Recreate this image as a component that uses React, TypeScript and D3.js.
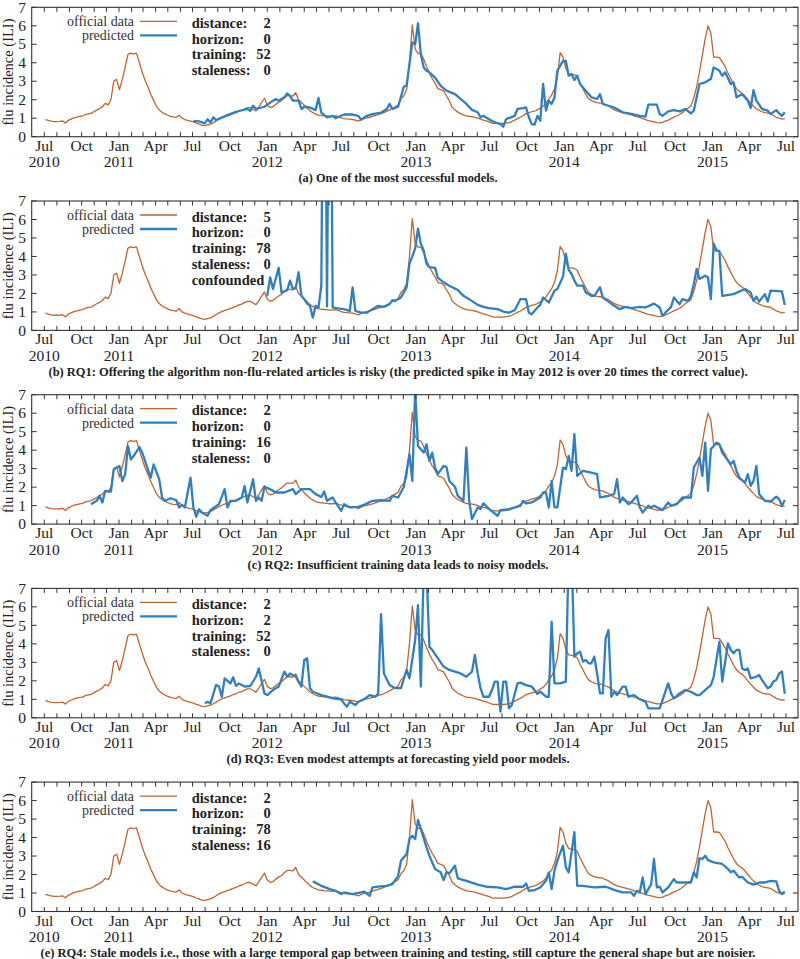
import React from 'react';
import * as d3 from 'd3';

// weekly official ILI values, starting week of 2010-07-04
const officialStart = new Date(2010, 6, 4);
const officialValues = [
  0.93, 0.88, 0.84, 0.82, 0.82, 0.83, 0.85, 0.74, 0.88, 0.95,
  1.02, 1.06, 1.1, 1.12, 1.2, 1.24, 1.26, 1.35, 1.44, 1.52,
  1.62, 1.8, 1.72, 2.0, 3.0, 3.1, 2.55, 3.1, 3.75, 4.45,
  4.52, 4.48, 4.52, 4.0, 3.5, 3.05, 2.7, 2.3, 1.98, 1.65,
  1.45, 1.32, 1.23, 1.16, 1.1, 1.07, 1.05, 1.17, 1.0, 0.93,
  0.88, 0.84, 0.8, 0.73, 0.68, 0.62, 0.6, 0.64, 0.68, 0.76,
  0.85, 0.95, 1.02, 1.08, 1.13, 1.18, 1.25, 1.3, 1.38, 1.42,
  1.5, 1.57, 1.57, 1.48, 1.39, 1.6, 1.85, 2.08, 1.7, 1.58,
  1.62, 1.75, 1.86, 1.95, 2.1, 2.22, 2.22, 2.2, 2.38, 2.0,
  1.85, 1.7, 1.55, 1.4, 1.3, 1.22, 1.17, 1.15, 1.13, 1.12,
  1.1, 1.1, 1.12, 1.08, 1.02, 0.98, 0.96, 0.95, 0.93, 0.9,
  0.84, 0.92, 0.98, 1.02, 1.05, 1.1, 1.15, 1.2, 1.25, 1.3,
  1.38, 1.45, 1.55, 1.62, 1.72, 2.05, 2.2, 2.55, 4.0, 6.05,
  4.75, 4.5, 4.5, 4.2, 3.8, 3.45, 3.15, 2.9, 2.6, 2.55,
  2.48, 2.2, 1.95, 1.6, 1.45, 1.33, 1.25, 1.18, 1.12, 1.1,
  1.08, 1.05, 1.0, 0.95, 0.9, 0.86, 0.8, 0.74, 0.72, 0.72,
  0.72, 0.72, 0.74, 0.76, 0.82, 0.9, 0.98, 1.05, 1.15, 1.25,
  1.3, 1.35, 1.39, 1.45, 1.55, 1.65, 1.8, 2.05, 2.25, 2.6,
  3.2, 4.55, 4.3, 3.7, 3.4, 3.38, 3.35, 3.25, 2.9, 2.6,
  2.3, 2.05, 1.95, 1.88, 1.84, 1.82, 1.8, 1.72, 1.66, 1.55,
  1.45, 1.39, 1.34, 1.3, 1.26, 1.22, 1.18, 1.12, 1.08, 1.03,
  0.98, 0.92, 0.87, 0.84, 0.8, 0.76, 0.75, 0.78, 0.84, 0.9,
  0.98, 1.06, 1.12, 1.2, 1.3, 1.45, 1.55, 1.66, 2.1, 2.7,
  3.5, 4.4, 5.3, 6.0, 5.6, 4.3, 4.3, 4.28, 4.05, 3.8,
  3.45, 3.15, 2.85, 2.6, 2.45, 2.35, 2.2, 2.0, 1.82, 1.65,
  1.5, 1.42, 1.35, 1.3, 1.28, 1.25, 1.15, 1.05, 1.0, 0.95,
  0.98,
];

// predicted series: [week index, value]
const predictedA = [
  [52, 0.86], [54, 0.83], [56, 0.72], [57, 0.94], [58, 0.77], [59, 1.05], [60, 0.9], [64, 1.17],
  [67, 1.35], [71, 1.5], [72, 1.4], [73, 1.68], [74, 1.5], [77, 1.62], [80, 1.95], [81, 2.04],
  [82, 1.95], [84, 2.13], [85, 2.34], [86, 2.2], [87, 1.95], [89, 1.95], [90, 1.5], [91, 1.62],
  [93, 1.58], [95, 1.44], [96, 2.1], [97, 1.3], [99, 1.05], [101, 1.13], [102, 1.0], [105, 1.2],
  [108, 1.2], [110, 1.13], [111, 0.92], [113, 1.13], [115, 1.22], [118, 1.3], [120, 1.5], [121, 1.77],
  [122, 1.5], [124, 1.62], [126, 2.7], [127, 2.76], [129, 5.1], [130, 5.0], [131, 6.13], [132, 4.47],
  [133, 3.75], [134, 3.57], [135, 3.48], [137, 3.2], [139, 2.75], [141, 2.49], [144, 2.3], [146, 2.04],
  [148, 1.77], [150, 1.45], [152, 1.32], [153, 1.05], [154, 1.13], [156, 0.95], [158, 0.77], [160, 0.68],
  [161, 0.54], [162, 0.95], [165, 1.13], [166, 1.5], [168, 1.55], [169, 1.58], [170, 1.05], [171, 0.68],
  [172, 0.65], [173, 1.13], [174, 0.86], [175, 2.85], [176, 1.41], [177, 1.95], [178, 1.77], [179, 2.13],
  [180, 3.57], [182, 4.1], [183, 4.1], [184, 3.3], [185, 3.39], [186, 3.06], [187, 3.3], [188, 2.85],
  [190, 2.49], [192, 2.13], [194, 2.04], [195, 2.3], [196, 1.77], [200, 1.58], [203, 1.32], [206, 1.23],
  [209, 1.13], [211, 1.08], [212, 1.73], [215, 1.73], [216, 1.23], [217, 1.13], [219, 1.37], [221, 1.44],
  [223, 1.37], [225, 1.5], [227, 1.26], [228, 1.41], [230, 2.85], [232, 2.94], [234, 3.12], [235, 3.75],
  [237, 3.57], [238, 3.3], [239, 3.48], [241, 2.85], [242, 2.94], [243, 2.13], [245, 2.3], [247, 1.95],
  [248, 1.55], [249, 2.52], [250, 1.95], [252, 1.5], [254, 1.41], [255, 1.23], [257, 1.44], [258, 1.26],
  [259, 1.13], [260, 1.32],
];

const predictedB = [
  [78, 1.87], [79, 2.87], [80, 2.24], [82, 3.38], [83, 2.05], [85, 2.18], [86, 2.69], [87, 2.24],
  [88, 2.29], [89, 3.15], [90, 1.87], [91, 1.69], [92, 1.45], [93, 1.33], [94, 0.69], [95, 1.33],
  [96, 1.24], [97, 2.42], [98, 24], [99, 1.3], [100, 24], [101, 1.24], [102, 1.2], [105, 1.15],
  [107, 1.05], [108, 2.33], [109, 1.05], [111, 0.96], [113, 0.96], [115, 1.15], [117, 1.33], [119, 1.27],
  [121, 1.42], [122, 1.64], [123, 1.6], [125, 1.78], [127, 2.33], [128, 3.6], [130, 4.42], [131, 5.5],
  [132, 4.69], [133, 4.33], [134, 3.6], [135, 3.42], [137, 3.38], [138, 2.84], [140, 2.6], [142, 2.42],
  [145, 2.18], [147, 1.87], [149, 1.69], [152, 1.38], [154, 1.27], [156, 1.2], [159, 1.15], [161, 1.02],
  [163, 0.96], [165, 1.09], [167, 1.69], [169, 1.69], [170, 0.96], [171, 0.87], [173, 1.24], [174, 1.38],
  [175, 1.78], [177, 1.51], [179, 2.15], [180, 2.24], [182, 2.91], [183, 4.15], [184, 3.27], [185, 3.05],
  [186, 2.69], [187, 2.42], [189, 2.42], [190, 2.05], [192, 1.87], [193, 1.87], [195, 2.33], [196, 1.78],
  [198, 1.56], [200, 1.33], [202, 1.15], [204, 1.27], [206, 1.2], [209, 1.27], [211, 1.24], [214, 1.45],
  [216, 1.24], [217, 0.78], [218, 0.96], [220, 1.27], [221, 1.78], [223, 1.42], [224, 1.69], [226, 1.6],
  [227, 1.87], [228, 2.51], [229, 3.33], [230, 2.78], [232, 2.96], [233, 2.87], [234, 1.69], [235, 4.69],
  [236, 4.33], [237, 4.29], [238, 1.87], [242, 1.96], [246, 2.24], [248, 2.05], [249, 1.6], [250, 1.82],
  [251, 1.56], [253, 1.96], [254, 1.56], [255, 2.15], [259, 2.11], [260, 1.38],
];

const predictedC = [
  [16, 1.08], [18, 1.26], [19, 1.53], [20, 1.17], [21, 1.8], [23, 1.76], [24, 2.96], [26, 3.14],
  [27, 2.33], [28, 2.69], [29, 4.22], [30, 3.5], [31, 3.68], [33, 4.17], [34, 3.86], [36, 2.96],
  [37, 2.51], [38, 3.23], [40, 2.42], [41, 1.44], [42, 1.26], [44, 1.4], [46, 1.29], [47, 0.9],
  [48, 1.04], [49, 0.9], [51, 2.51], [52, 0.9], [53, 0.4], [54, 0.81], [55, 0.63], [57, 0.45],
  [58, 0.75], [61, 1.08], [63, 1.89], [64, 0.9], [65, 1.26], [67, 1.26], [69, 1.44], [70, 2.06],
  [71, 1.17], [73, 2.42], [74, 1.26], [75, 1.44], [76, 1.26], [77, 2.01], [79, 1.89], [81, 1.71],
  [84, 1.71], [87, 1.89], [88, 1.62], [90, 1.89], [93, 1.89], [95, 1.62], [97, 1.47], [98, 1.76],
  [99, 1.26], [101, 1.44], [102, 1.17], [104, 0.72], [105, 1.08], [107, 0.9], [110, 0.93], [112, 1.04],
  [115, 1.26], [118, 1.29], [121, 1.26], [122, 1.53], [124, 1.44], [126, 2.01], [128, 3.77], [129, 2.34],
  [130, 7.2], [131, 4.23], [133, 3.87], [134, 4.32], [135, 3.42], [136, 3.87], [137, 3.06], [138, 2.7],
  [140, 3.15], [141, 3.1], [142, 2.34], [144, 2.02], [145, 1.53], [147, 1.26], [148, 4.14], [149, 1.26],
  [150, 0.27], [152, 0.9], [153, 0.81], [154, 1.12], [156, 0.81], [159, 0.45], [160, 0.76], [163, 0.81],
  [167, 0.99], [168, 1.26], [169, 1.12], [171, 1.17], [174, 1.44], [175, 1.71], [176, 1.71], [177, 0.9],
  [178, 2.34], [179, 0.9], [180, 0.9], [182, 3.06], [183, 2.97], [184, 3.69], [185, 2.88], [186, 4.86],
  [187, 2.61], [189, 2.88], [192, 2.79], [194, 2.7], [195, 1.44], [198, 1.53], [200, 1.62], [201, 2.43],
  [202, 1.17], [203, 1.44], [205, 1.08], [206, 1.17], [208, 1.53], [209, 0.9], [210, 0.63], [212, 0.99],
  [213, 0.9], [214, 0.99], [217, 0.76], [219, 1.17], [220, 0.99], [222, 1.08], [224, 1.44], [227, 1.44],
  [228, 3.06], [230, 3.6], [231, 2.61], [232, 4.41], [233, 1.8], [234, 4.05], [236, 4.41], [237, 4.32],
  [238, 3.87], [241, 3.24], [242, 3.42], [243, 2.88], [244, 2.52], [246, 2.25], [247, 2.7], [248, 2.07],
  [249, 2.34], [250, 3.15], [251, 1.62], [253, 1.26], [255, 1.22], [257, 1.48], [258, 1.35], [259, 0.99],
  [260, 1.3],
];

const predictedD = [
  [56, 0.78], [57, 0.87], [58, 0.78], [60, 1.78], [61, 1.69], [62, 1.14], [63, 2.13], [65, 1.86],
  [66, 2.19], [67, 1.72], [68, 1.86], [70, 1.69], [72, 1.72], [74, 2.22], [75, 2.67], [77, 1.32],
  [78, 1.23], [80, 1.5], [82, 1.69], [84, 2.5], [85, 2.22], [86, 2.4], [88, 2.22], [89, 1.96],
  [90, 1.69], [91, 3.13], [92, 3.22], [93, 1.6], [94, 1.41], [97, 1.23], [99, 1.14], [101, 1.05],
  [104, 1.0], [105, 0.78], [106, 0.6], [107, 0.87], [109, 0.69], [110, 0.87], [112, 1.0], [114, 1.23],
  [116, 1.14], [117, 1.32], [118, 5.61], [119, 2.4], [121, 1.78], [123, 1.6], [125, 1.6], [127, 2.59],
  [128, 2.13], [130, 4.21], [131, 6.1], [132, 1.69], [133, 8], [134, 8], [135, 3.85], [136, 3.67],
  [138, 3.22], [140, 2.77], [142, 2.59], [144, 2.5], [146, 2.4], [148, 2.22], [150, 2.5], [151, 3.4],
  [152, 2.4], [153, 1.6], [154, 1.14], [156, 1.14], [157, 1.5], [158, 1.96], [159, 1.96], [160, 0.33],
  [161, 1.96], [162, 1.96], [163, 0.51], [164, 0.69], [166, 1.86], [167, 1.9], [169, 1.77], [171, 1.69],
  [173, 1.29], [174, 1.41], [176, 1.14], [177, 1.14], [178, 5.2], [179, 1.86], [181, 1.86], [183, 1.96],
  [184, 9], [185, 9], [186, 3.3], [187, 3.49], [188, 3.58], [189, 3.04], [190, 3.13], [191, 2.95],
  [192, 2.95], [193, 3.31], [194, 2.4], [195, 1.32], [196, 1.32], [197, 4.3], [198, 4.75], [199, 1.14],
  [200, 1.41], [201, 1.23], [203, 1.69], [204, 1.69], [205, 1.14], [207, 1.23], [209, 1.0], [211, 0.87],
  [212, 0.51], [214, 0.51], [216, 0.51], [217, 0.96], [218, 1.41], [219, 1.86], [220, 1.32], [221, 1.05],
  [223, 1.32], [225, 1.5], [227, 1.41], [229, 1.23], [230, 1.23], [232, 1.5], [234, 1.77], [235, 2.22],
  [237, 4.12], [238, 1.96], [240, 4.03], [241, 3.67], [242, 3.49], [243, 3.67], [244, 3.67], [245, 2.67],
  [246, 2.59], [247, 2.67], [248, 2.13], [250, 2.22], [251, 2.31], [252, 2.04], [254, 1.6], [255, 1.69],
  [256, 1.96], [257, 2.04], [258, 2.4], [259, 2.5], [260, 1.29],
];

const predictedE = [
  [94, 1.63], [97, 1.39], [100, 1.21], [102, 1.12], [104, 0.94], [105, 1.03], [108, 0.94], [111, 1.03],
  [112, 1.08], [114, 0.85], [115, 1.3], [117, 1.34], [120, 1.39], [122, 1.48], [124, 1.93], [125, 2.75],
  [127, 3.11], [128, 3.92], [129, 4.1], [130, 3.92], [131, 4.95], [132, 4.47], [134, 3.47], [135, 3.02],
  [137, 2.3], [138, 2.21], [139, 2.12], [140, 1.7], [141, 2.12], [142, 2.06], [144, 2.48], [145, 1.79],
  [148, 1.66], [152, 1.45], [155, 1.34], [159, 1.3], [162, 1.21], [165, 1.34], [168, 1.34], [169, 1.52],
  [170, 1.12], [172, 1.16], [174, 1.3], [176, 1.66], [177, 2.12], [178, 1.21], [179, 2.21], [180, 2.75],
  [182, 3.56], [183, 2.39], [184, 2.12], [185, 3.2], [186, 4.29], [187, 1.39], [189, 1.39], [193, 1.3],
  [197, 1.34], [201, 1.12], [203, 1.03], [206, 1.03], [207, 0.85], [208, 1.12], [209, 1.03], [210, 1.84],
  [211, 0.94], [213, 1.48], [214, 2.84], [215, 1.3], [216, 1.34], [217, 1.03], [219, 1.3], [221, 1.75],
  [222, 1.57], [227, 1.57], [228, 2.12], [229, 1.84], [230, 2.88], [231, 2.84], [232, 3.02], [233, 2.78],
  [235, 2.66], [238, 2.57], [240, 2.3], [241, 2.12], [242, 2.21], [244, 1.84], [245, 1.88], [247, 1.57],
  [249, 1.45], [251, 1.57], [253, 1.57], [255, 1.66], [257, 1.63], [258, 1.12], [259, 0.94], [260, 1.08],
];

const statLabels = ['distance:', 'horizon:', 'training:', 'staleness:'];
const statValues = [
  ['2', '0', '52', '0'],
  ['5', '0', '78', '0'],
  ['2', '0', '16', '0'],
  ['2', '2', '52', '0'],
  ['2', '0', '78', '16'],
];
const extraNotes = ['', 'confounded', '', '', ''];
const captions = [
  '(a) One of the most successful models.',
  '(b) RQ1: Offering the algorithm non-flu-related articles is risky (the predicted spike in May 2012 is over 20 times the correct value).',
  '(c) RQ2: Insufficient training data leads to noisy models.',
  '(d) RQ3: Even modest attempts at forecasting yield poor models.',
  '(e) RQ4: Stale models i.e., those with a large temporal gap between training and testing, still capture the general shape but are noisier.',
];
const captionWidths = [199, 699, 301, 343, 715];
const predictedSeries = [predictedA, predictedB, predictedC, predictedD, predictedE];
const yTicks = [0, 1, 2, 3, 4, 5, 6, 7];
const monthNames = ['Jan', 'Feb', 'Mar', 'Apr', 'May', 'Jun', 'Jul', 'Aug', 'Sep', 'Oct', 'Nov', 'Dec'];

const ORANGE = '#c2642f';
const BLUE = '#2f80c2';
const FONT = '"Liberation Serif", "Times New Roman", serif';

const left = 31.7;
const right = 798;
const plotH = 129.4;
const panelStep = 193.7;
const firstTop = 7.3;

const x = d3.scaleTime()
  .domain([new Date(2010, 6, 1), new Date(2015, 6, 1)])
  .range([44.3, 786]);

const weekDate = (w: number) => d3.timeWeek.offset(officialStart, w);
const months = d3.timeMonth.range(new Date(2010, 6, 1), new Date(2015, 6, 2));

function Panel({ index }: { index: number }) {
  const top = firstTop + index * panelStep;
  const bottom = top + plotH;
  const y = d3.scaleLinear().domain([0, 7]).range([bottom, top]);

  const officialLine = d3.line<number>()
    .x((_, i) => x(weekDate(i)))
    .y(d => y(d));
  const predLine = d3.line<number[]>()
    .x(d => x(weekDate(d[0])))
    .y(d => y(d[1]));

  const clipId = `clip-${index}`;
  const notes = extraNotes[index];

  return (
    <g>
      <defs>
        <clipPath id={clipId}>
          <rect x={left} y={top} width={right - left} height={plotH} />
        </clipPath>
      </defs>

      <g clipPath={`url(#${clipId})`}>
        <path d={officialLine(officialValues) || ''} fill="none" stroke={ORANGE} strokeWidth={1.3} strokeLinejoin="round" />
        <path d={predLine(predictedSeries[index]) || ''} fill="none" stroke={BLUE} strokeWidth={2.3} strokeLinejoin="round" />
      </g>

      {/* frame */}
      <rect x={left} y={top} width={right - left} height={plotH} fill="none" stroke="#333" strokeWidth={1.1} />

      {/* month ticks on bottom and top */}
      {months.map((m, i) => (
        <g key={i}>
          <line x1={x(m)} x2={x(m)} y1={bottom} y2={bottom - 4.5} stroke="#333" strokeWidth={1} />
          <line x1={x(m)} x2={x(m)} y1={top} y2={top + 4.5} stroke="#333" strokeWidth={1} />
        </g>
      ))}
      {months.filter(m => m.getMonth() % 3 === 0).map((m, i) => (
        <text key={i} x={x(m)} y={bottom + 14} textAnchor="middle" fontFamily={FONT} fontSize={15.5} fill="#222">
          {monthNames[m.getMonth()]}
        </text>
      ))}
      {months.filter((m, i) => m.getMonth() === 0 || i === 0).map((m, i) => (
        <text key={i} x={x(m)} y={bottom + 30.6} textAnchor="middle" fontFamily={FONT} fontSize={15.5} fill="#222">
          {m.getFullYear()}
        </text>
      ))}

      {/* y ticks */}
      {yTicks.map(t => (
        <g key={t}>
          <line x1={left} x2={left + 5} y1={y(t)} y2={y(t)} stroke="#333" strokeWidth={1} />
          <line x1={right} x2={right - 5} y1={y(t)} y2={y(t)} stroke="#333" strokeWidth={1} />
          <text x={26} y={y(t) + 5.2} textAnchor="end" fontFamily={FONT} fontSize={15.5} fill="#222">{t}</text>
        </g>
      ))}
      <text transform={`translate(12.5,${(top + bottom) / 2}) rotate(-90)`} textAnchor="middle" fontFamily={FONT} fontSize={14.5} fill="#222">
        flu incidence (ILI)
      </text>

      {/* legend */}
      <text x={134} y={top + 19} textAnchor="end" fontFamily={FONT} fontSize={14} fill="#333">official data</text>
      <line x1={140} x2={177} y1={top + 14} y2={top + 14} stroke={ORANGE} strokeWidth={1.3} />
      <text x={134} y={top + 33} textAnchor="end" fontFamily={FONT} fontSize={14} fill="#333">predicted</text>
      <line x1={140} x2={177} y1={top + 28} y2={top + 28} stroke={BLUE} strokeWidth={2.3} />

      {statLabels.map((lab, i) => (
        <g key={lab}>
          <text x={191.7} y={top + 20.5 + i * 15.8} fontFamily={FONT} fontSize={14.5} fontWeight="bold" fill="#222">{lab}</text>
          <text x={270.7} y={top + 20.5 + i * 15.8} textAnchor="end" fontFamily={FONT} fontSize={14.5} fontWeight="bold" fill="#222">{statValues[index][i]}</text>
        </g>
      ))}
      {notes && (
        <text x={191.7} y={top + 20.5 + 4 * 15.8} fontFamily={FONT} fontSize={14.5} fontWeight="bold" fill="#222">{notes}</text>
      )}

      <text x={398} y={top + 174.5} textAnchor="middle" fontFamily={FONT} fontSize={12.5} fontWeight="bold" fill="#222"
        textLength={captionWidths[index]} lengthAdjust="spacingAndGlyphs">
        {captions[index]}
      </text>
    </g>
  );
}

export default function App() {
  return (
    <svg width={800} height={959} style={{ position: 'absolute', left: 0, top: 0, background: '#fff' }}>
      {captions.map((_, i) => <Panel key={i} index={i} />)}
    </svg>
  );
}
